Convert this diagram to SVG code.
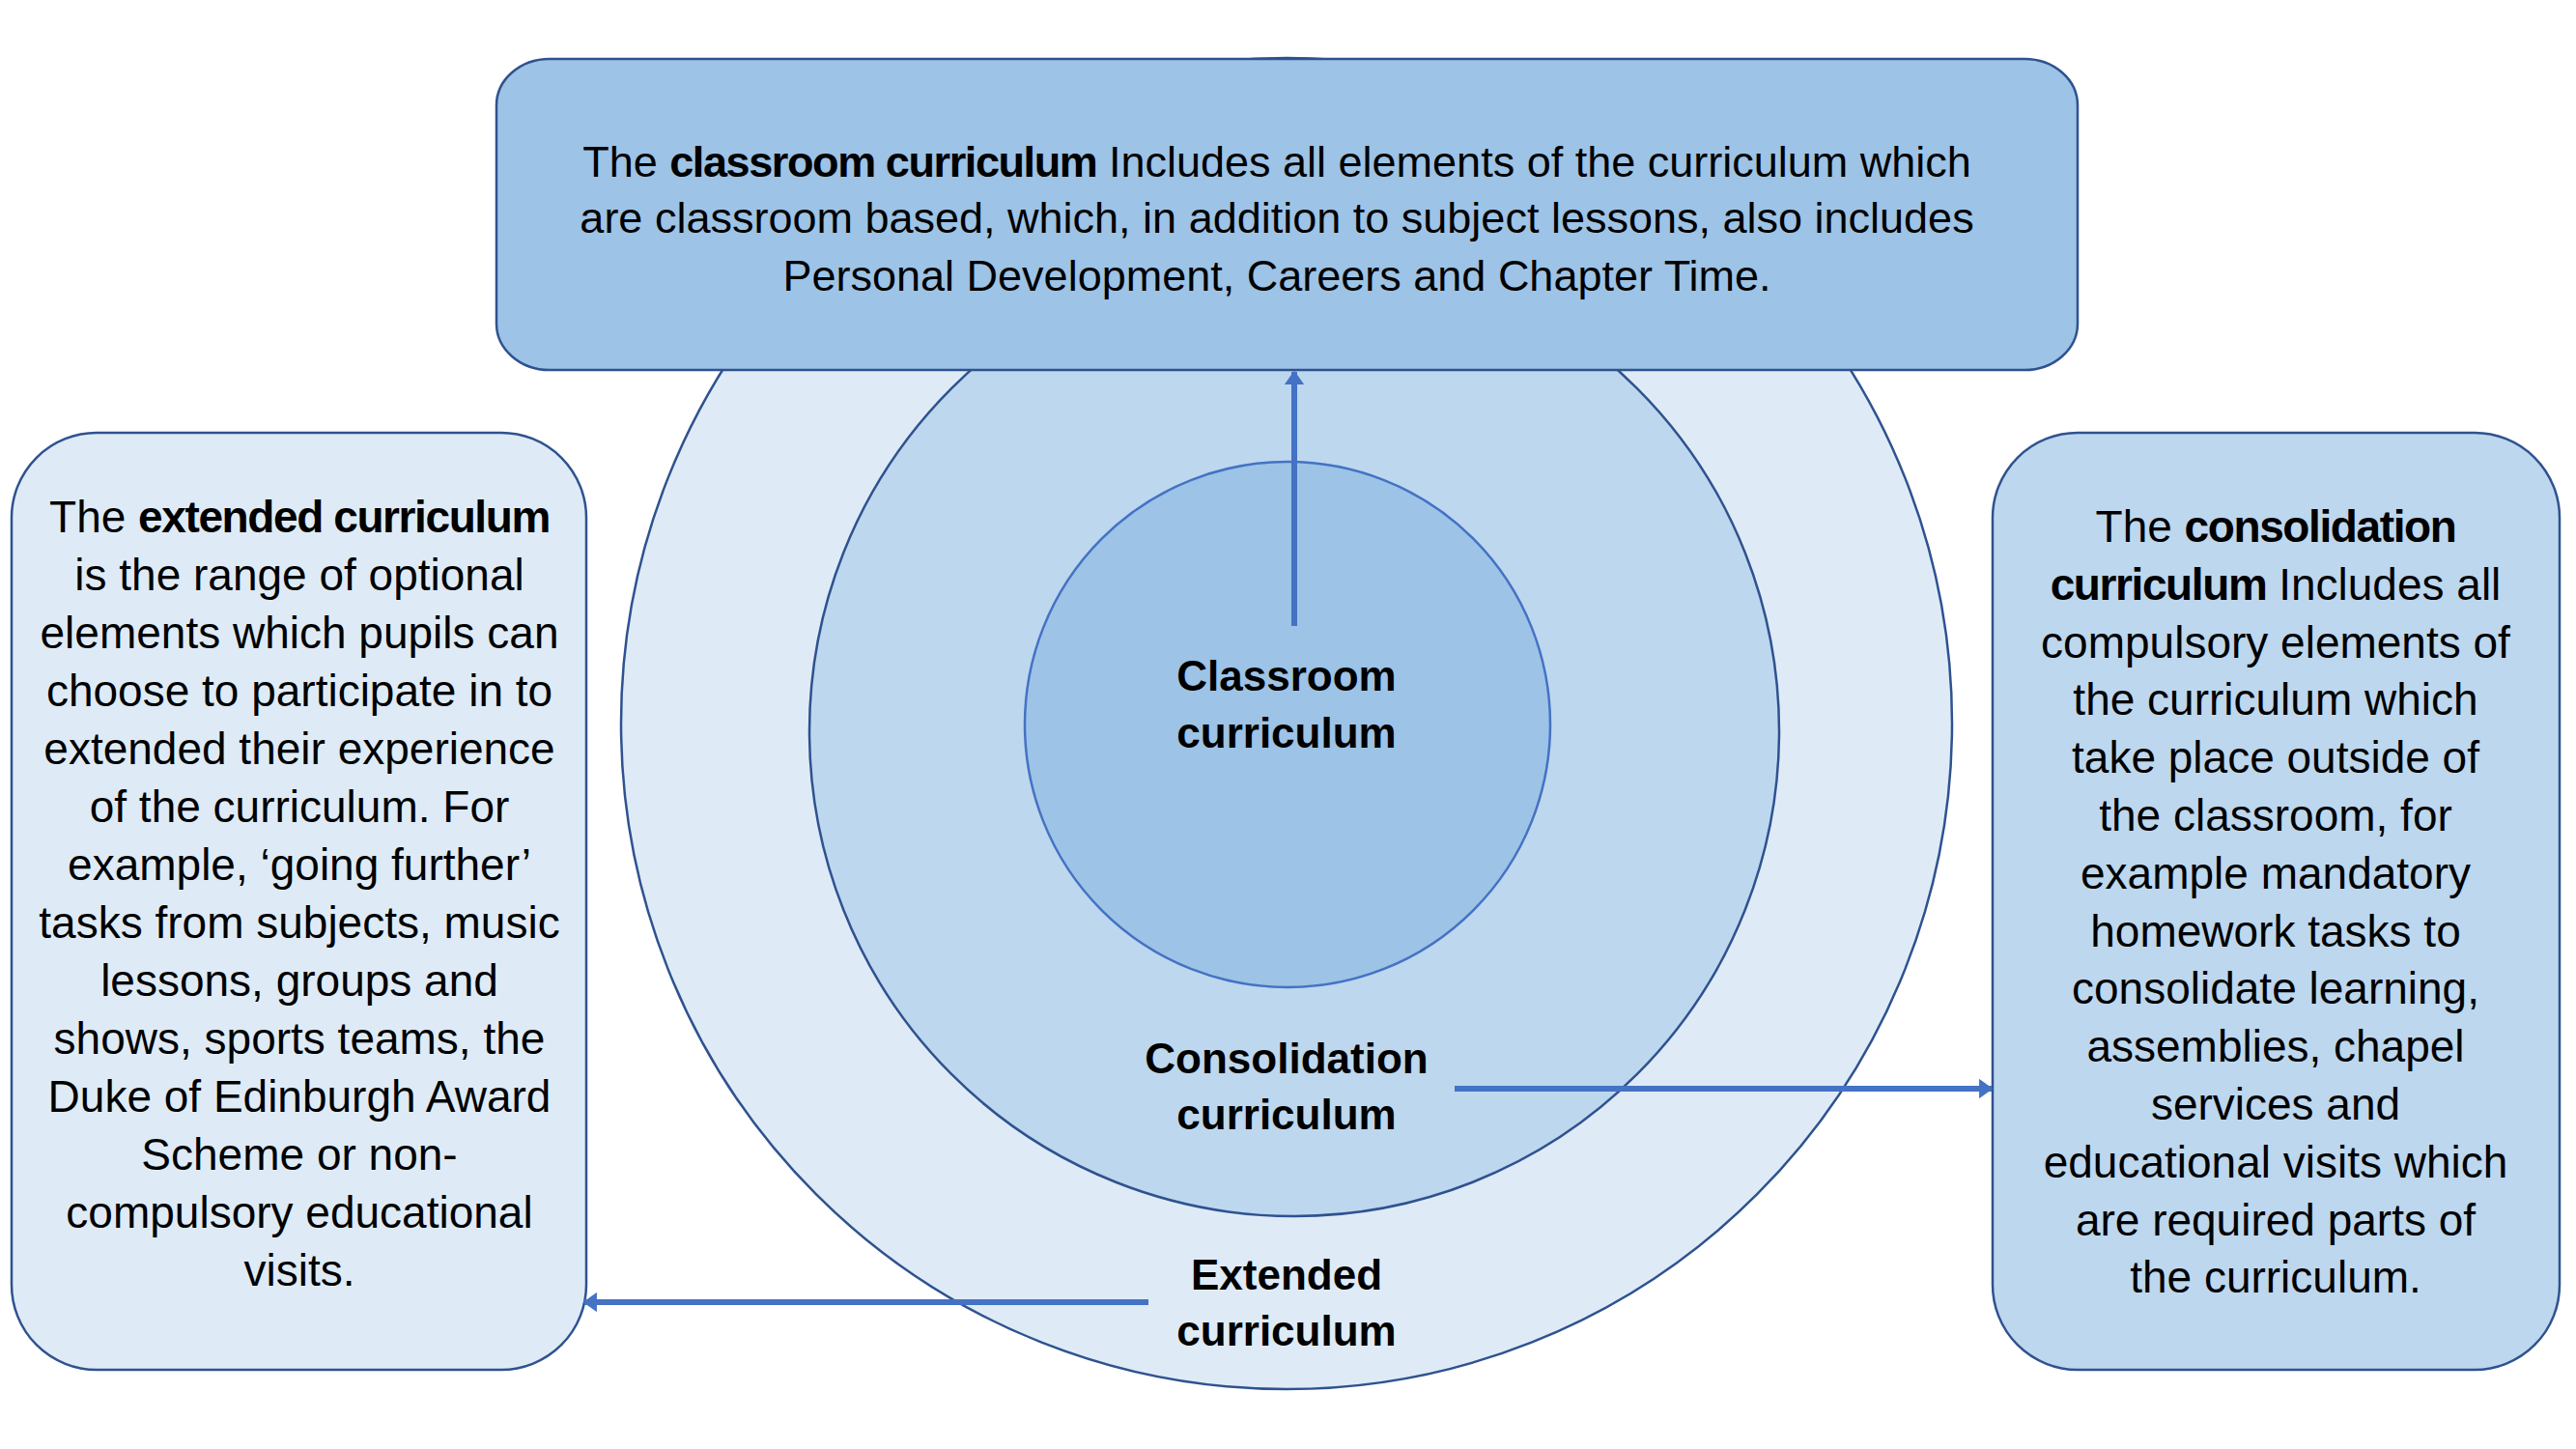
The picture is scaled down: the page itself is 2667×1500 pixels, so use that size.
<svg xmlns="http://www.w3.org/2000/svg" width="2667" height="1500" viewBox="0 0 2667 1500">
<defs>
<style>
.t{font-family:"Liberation Sans",Arial,sans-serif;font-size:44px;fill:#000;text-anchor:middle}
.s{font-size:46px}
.u{font-size:45px}
.b{font-weight:bold}
.k{letter-spacing:-1.4px}
.ring{stroke:#2F528F;stroke-width:2.5}
.box{stroke:#2F528F;stroke-width:2.5}
.conn{stroke:#4472C4;stroke-width:6;fill:none}
</style>
<marker id="ah" viewBox="0 0 10 10" refX="9" refY="5" markerWidth="2.4" markerHeight="3.4" orient="auto" markerUnits="strokeWidth" preserveAspectRatio="none">
<path d="M0,0 L10,5 L0,10 Z" fill="#4472C4"/>
</marker>
</defs>
<rect width="2667" height="1500" fill="#FFFFFF"/>
<g id="extended-ring">
<circle class="ring" cx="1332" cy="749" r="689" fill="#DEEBF7"/>
<text class="t b" x="1332" y="1335">Extended</text>
<text class="t b" x="1332" y="1393">curriculum</text>
</g>
<g id="consolidation-ring">
<circle class="ring" cx="1340" cy="757" r="502" fill="#BDD7EE"/>
<text class="t b" x="1332" y="1111">Consolidation</text>
<text class="t b" x="1332" y="1169">curriculum</text>
</g>
<g id="classroom-ring">
<circle cx="1333" cy="750" r="272" fill="#9DC3E6" stroke="#4472C4" stroke-width="2.5"/>
<text class="t b" x="1332" y="715">Classroom</text>
<text class="t b" x="1332" y="774">curriculum</text>
</g>
<g id="classroom-box">
<rect class="box" x="514" y="61" width="1637" height="322" rx="55" ry="48" fill="#9DC3E6"/>
<text class="t u" x="1322" y="183">The <tspan class="b k">classroom curriculum</tspan> Includes all elements of the curriculum which</text>
<text class="t u" x="1322" y="241">are classroom based, which, in addition to subject lessons, also includes</text>
<text class="t u" x="1322" y="301">Personal Development, Careers and Chapter Time.</text>
</g>
<g id="extended-box">
<rect class="box" x="12" y="448" width="595" height="970" rx="88" ry="88" fill="#DEEBF7"/>
<text class="t s" x="310" y="551">The <tspan class="b k">extended curriculum</tspan></text>
<text class="t s" x="310" y="611">is the range of optional</text>
<text class="t s" x="310" y="671">elements which pupils can</text>
<text class="t s" x="310" y="731">choose to participate in to</text>
<text class="t s" x="310" y="791">extended their experience</text>
<text class="t s" x="310" y="851">of the curriculum. For</text>
<text class="t s" x="310" y="911">example, ‘going further’</text>
<text class="t s" x="310" y="971">tasks from subjects, music</text>
<text class="t s" x="310" y="1031">lessons, groups and</text>
<text class="t s" x="310" y="1091">shows, sports teams, the</text>
<text class="t s" x="310" y="1151">Duke of Edinburgh Award</text>
<text class="t s" x="310" y="1211">Scheme or non-</text>
<text class="t s" x="310" y="1271">compulsory educational</text>
<text class="t s" x="310" y="1331">visits.</text>
</g>
<g id="consolidation-box">
<rect class="box" x="2063" y="448" width="587" height="970" rx="88" ry="88" fill="#BDD7EE"/>
<text class="t s" x="2356" y="561">The <tspan class="b k">consolidation</tspan></text>
<text class="t s" x="2356" y="621"><tspan class="b k">curriculum</tspan> Includes all</text>
<text class="t s" x="2356" y="681">compulsory elements of</text>
<text class="t s" x="2356" y="740">the curriculum which</text>
<text class="t s" x="2356" y="800">take place outside of</text>
<text class="t s" x="2356" y="860">the classroom, for</text>
<text class="t s" x="2356" y="920">example mandatory</text>
<text class="t s" x="2356" y="980">homework tasks to</text>
<text class="t s" x="2356" y="1039">consolidate learning,</text>
<text class="t s" x="2356" y="1099">assemblies, chapel</text>
<text class="t s" x="2356" y="1159">services and</text>
<text class="t s" x="2356" y="1219">educational visits which</text>
<text class="t s" x="2356" y="1279">are required parts of</text>
<text class="t s" x="2356" y="1338">the curriculum.</text>
</g>
<g id="connectors">
<line class="conn" x1="1340" y1="648" x2="1340" y2="385" marker-end="url(#ah)"/>
<line class="conn" x1="1506" y1="1127" x2="2062" y2="1127" marker-end="url(#ah)"/>
<line class="conn" x1="1189" y1="1348" x2="605" y2="1348" marker-end="url(#ah)"/>
</g>
</svg>
